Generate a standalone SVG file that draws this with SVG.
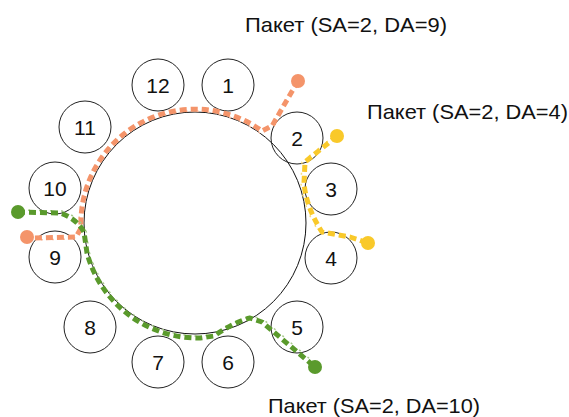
<svg xmlns="http://www.w3.org/2000/svg" width="569" height="417" viewBox="0 0 569 417">
<style>
.node circle{fill:none;stroke:#222;stroke-width:1}
.node text{font-family:"Liberation Sans",Arial,sans-serif;font-size:21px;fill:#111;text-anchor:middle}
.lbl{font-family:"Liberation Sans",Arial,sans-serif;font-size:21px;fill:#111}
.ring{fill:none;stroke:#111;stroke-width:1}
.p{fill:none;stroke-width:5;stroke-dasharray:7 4;stroke-linejoin:round}
.t{fill:none;stroke-width:1.5;stroke-dasharray:2 9;stroke-dashoffset:-8}
.or{stroke:#F4946A}.ort{stroke:#F9C3A8}
.ye{stroke:#F9C92A}.yet{stroke:#F6DD80}
.gr{stroke:#5A9A2C}.grt{stroke:#A9C98E}
</style>
<rect width="569" height="417" fill="#fff"/>
<circle class="ring" cx="195" cy="223" r="111"/>
<g id="n1" class="node"><circle cx="228" cy="85" r="26"/><text x="228" y="93">1</text></g>
<g id="n2" class="node"><circle cx="297" cy="138" r="26"/><text x="297" y="146">2</text></g>
<g id="n3" class="node"><circle cx="331" cy="189" r="26"/><text x="331" y="197">3</text></g>
<g id="n4" class="node"><circle cx="331" cy="258" r="26"/><text x="331" y="266">4</text></g>
<g id="n5" class="node"><circle cx="297" cy="327" r="26"/><text x="297" y="335">5</text></g>
<g id="n6" class="node"><circle cx="228" cy="362" r="26"/><text x="228" y="370">6</text></g>
<g id="n7" class="node"><circle cx="158" cy="362" r="26"/><text x="158" y="370">7</text></g>
<g id="n8" class="node"><circle cx="90" cy="327" r="26"/><text x="90" y="335">8</text></g>
<g id="n9" class="node"><circle cx="55" cy="257" r="26"/><text x="55" y="265">9</text></g>
<g id="n10" class="node"><circle cx="55" cy="188" r="26"/><text x="55" y="196">10</text></g>
<g id="n11" class="node"><circle cx="85" cy="127" r="26"/><text x="85" y="135">11</text></g>
<g id="n12" class="node"><circle cx="158" cy="85" r="26"/><text x="158" y="93">12</text></g>
<g id="connectors">
<path class="t ort" d="M298,81 L272,126 L262,131 A114,114 0 0 0 81,228 L76,237 L30,238" transform="translate(-2,2)"/>
<path class="p or" d="M298,81 L272,126 L262,131 A114,114 0 0 0 81,228 L76,237 L30,238"/>
<circle cx="298" cy="81" r="7" fill="#F4946A"/>
<circle cx="27" cy="237" r="7" fill="#F4946A"/>
<path class="t yet" d="M337,136 L305,162 L304,183 Q306,207 322,232 L350,237 L368,243" transform="translate(-3,0)"/>
<path class="p ye" d="M337,136 L305,162 L304,183 Q306,207 322,232 L350,237 L368,243"/>
<circle cx="337" cy="136" r="7" fill="#F9C92A"/>
<circle cx="368" cy="243" r="7" fill="#F9C92A"/>
<path class="t grt" d="M18,212 L60,213 Q76,218 84,232 L87,253 A115,115 0 0 0 200,338 L214,336 Q234,322 250,318 L262,322 L315,367" transform="translate(2,-2)"/>
<path class="p gr" d="M18,212 L60,213 Q76,218 84,232 L87,253 A115,115 0 0 0 200,338 L214,336 Q234,322 250,318 L262,322 L315,367"/>
<circle cx="18" cy="212" r="7" fill="#5A9A2C"/>
<circle cx="315" cy="367" r="7" fill="#5A9A2C"/>
</g>
<text class="lbl" x="245" y="32" textLength="202" lengthAdjust="spacingAndGlyphs">Пакет (SA=2, DA=9)</text>
<text class="lbl" x="367" y="119" textLength="201" lengthAdjust="spacingAndGlyphs">Пакет (SA=2, DA=4)</text>
<text class="lbl" x="268" y="413" textLength="212" lengthAdjust="spacingAndGlyphs">Пакет (SA=2, DA=10)</text>
</svg>
